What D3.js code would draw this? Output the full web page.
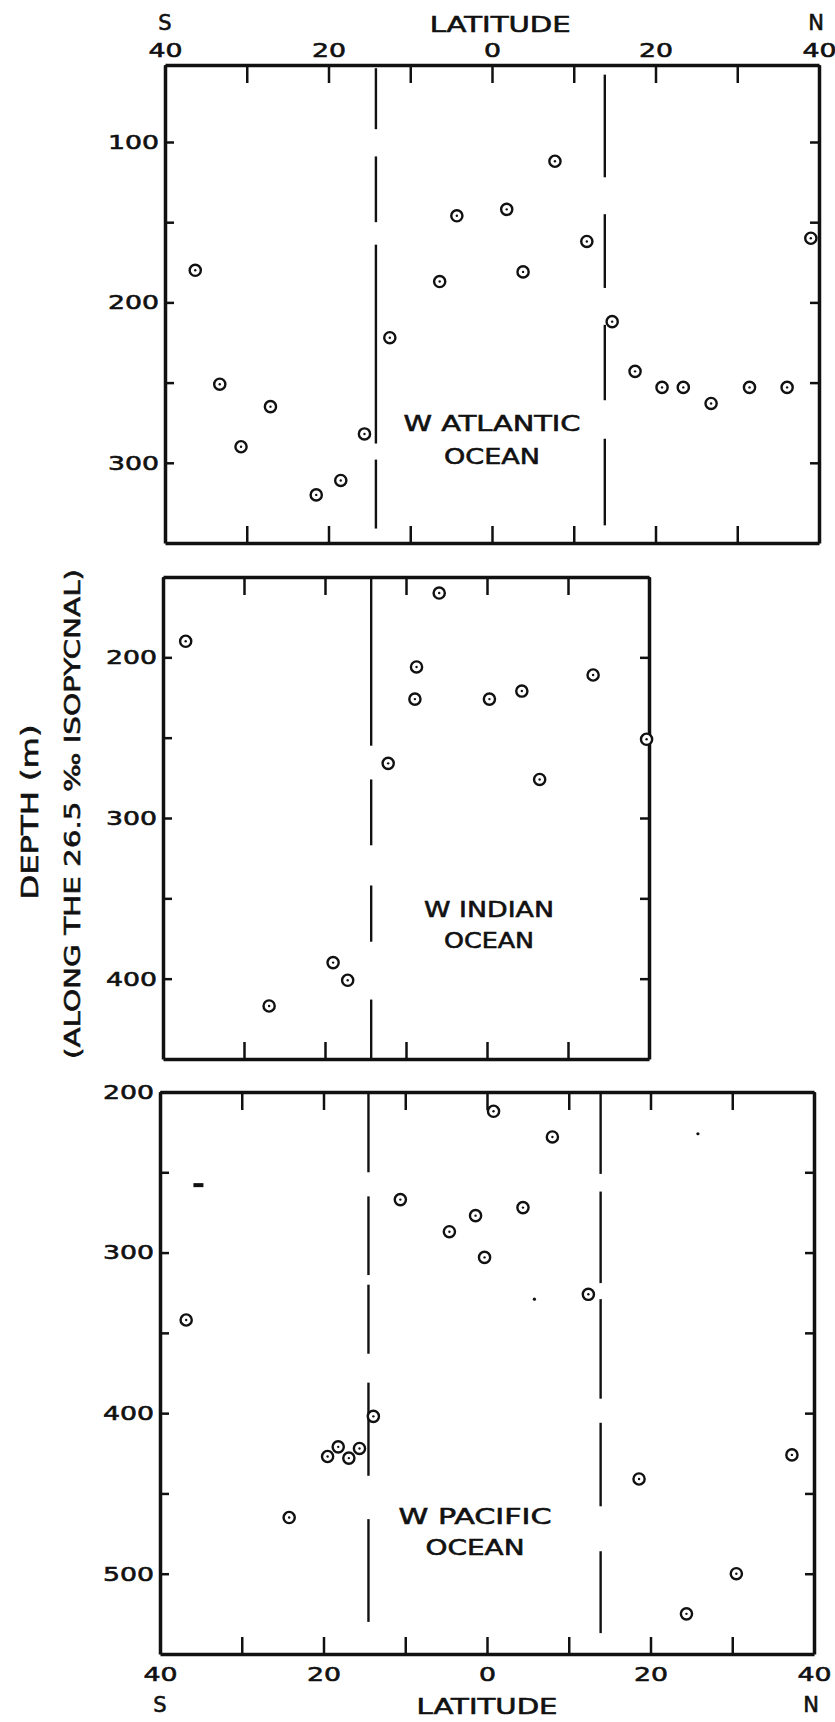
<!DOCTYPE html>
<html lang="en">
<head>
<meta charset="utf-8">
<title>Depth of the 26.5 isopycnal by latitude</title>
<script src="https://d3js.org/d3.v7.min.js"></script>
<style>
  body { margin: 0; background: #fff; }
  svg text { font-family: "DejaVu Sans", sans-serif; fill: #111; stroke: #111; stroke-width: 0.6px; }
  .axis path { stroke: #111; stroke-width: 3.5; }
  .axis line { stroke: #111; stroke-width: 2.5; }
</style>
</head>
<body>
<script>
// --- data (latitude: negative = south) ---
const atlanticLat   = [-36.3, -33.3, -30.7, -27.1, -21.5, -18.5, -15.6, -12.5, -6.4, -4.3, 1.8, 3.8, 7.7, 11.6, 14.7, 17.5, 20.8, 23.4, 26.8, 31.5, 36.1, 39.0];
const atlanticDepth = [180, 251, 290, 265, 320, 311, 282, 222, 187, 146, 142, 181, 112, 162, 212, 243, 253, 253, 263, 253, 253, 160];

const indianLat   = [-37.2, -26.9, -19.0, -17.2, -12.2, -8.9, -8.7, -5.9, 0.3, 4.3, 6.5, 13.1, 19.7];
const indianDepth = [190, 417, 390, 401, 266, 226, 206, 160, 226, 221, 276, 211, 251];

const pacificLat   = [-36.8, -24.2, -19.5, -18.2, -16.9, -15.6, -13.9, -10.6, -4.6, -1.4, -0.3, 0.8, 4.4, 8.0, 12.4, 18.6, 24.4, 30.5, 37.3];
const pacificDepth = [342, 465, 427, 421, 428, 422, 402, 267, 287, 277, 303, 212, 272, 228, 326, 441, 525, 500, 426];

// stray marks printed in the Pacific panel (a dash and two specks)
const pacificMarkLat   = [-35.3, 25.8, 5.8];
const pacificMarkDepth = [258, 226, 329];
const pacificMarkKind  = ["dash", "dot", "dot"];

// broken vertical lines: latitude and the depth pieces that are drawn
const atlanticDivLat  = [-14.2, 13.8];
const atlanticDivSegs = [[[54, 92], [109, 150], [164, 288], [298, 341]],
                         [[58, 122], [145, 191], [214, 261], [285, 339]]];
const indianDivLat  = [-14.3];
const indianDivSegs = [[[151, 255], [276, 317], [342, 377], [413, 450]]];
const pacificDivLat  = [-14.5, 13.9];
const pacificDivSegs = [[[201, 250], [265, 314], [320, 363], [381, 439], [466, 530]],
                        [[201, 251], [262, 319], [329, 391], [406, 458], [486, 537]]];

const latTicks = [-40, -30, -20, -10, 0, 10, 20, 30, 40];
const atlanticDepthTicks = [100, 150, 200, 250, 300];
const indianDepthTicks   = [200, 250, 300, 350, 400];
const pacificDepthTicks  = [200, 250, 300, 350, 400, 450, 500];

const W = 835, H = 1722;
const svg = d3.select("body").append("svg").attr("width", W).attr("height", H);

// stretch lettering to look like the wide drafting letters
function widen(sel, perChar) {
  sel.each(function() {
    const t = this.textContent;
    if (t) d3.select(this).attr("textLength", t.length * perChar).attr("lengthAdjust", "spacingAndGlyphs");
  });
}

const panels = [
  { lat: atlanticLat, depth: atlanticDepth, divLat: atlanticDivLat, divSegs: atlanticDivSegs,
    latDom: [-40, 40], depthDom: [52, 350], depthTicks: atlanticDepthTicks,
    box: { l: 165, r: 819, t: 65, b: 543 }, topLabels: true, bottomLabels: false,
    name: ["W ATLANTIC", "OCEAN"], nameX: 492, nameY: [431, 464], nameW: [177, 96] },
  { lat: indianLat, depth: indianDepth, divLat: indianDivLat, divSegs: indianDivSegs,
    latDom: [-40, 20], depthDom: [150, 450], depthTicks: indianDepthTicks,
    box: { l: 163, r: 649, t: 577, b: 1059 }, topLabels: false, bottomLabels: false,
    name: ["W INDIAN", "OCEAN"], nameX: 489, nameY: [917, 948], nameW: [130, 90] },
  { lat: pacificLat, depth: pacificDepth, divLat: pacificDivLat, divSegs: pacificDivSegs,
    latDom: [-40, 40], depthDom: [200, 550], depthTicks: pacificDepthTicks,
    box: { l: 160, r: 814, t: 1092, b: 1654 }, topLabels: false, bottomLabels: true,
    name: ["W PACIFIC", "OCEAN"], nameX: 475, nameY: [1524, 1555], nameW: [153, 99],
    marks: true }
];

const latFmt = d => (d % 20 === 0 ? Math.abs(d) : "");

panels.forEach(p => {
  const x = d3.scaleLinear().domain(p.latDom).range([p.box.l, p.box.r]);
  const y = d3.scaleLinear().domain(p.depthDom).range([p.box.t, p.box.b]);
  const xt = latTicks.filter(d => d >= p.latDom[0] && d <= p.latDom[1]);

  const g = svg.append("g");

  // frame with inward ticks on all four sides
  g.append("g").attr("class", "axis").attr("transform", `translate(0,${p.box.t})`)
    .call(d3.axisTop(x).tickValues(xt).tickSizeInner(-18).tickSizeOuter(0).tickPadding(8)
      .tickFormat(p.topLabels ? latFmt : ""));
  g.append("g").attr("class", "axis").attr("transform", `translate(0,${p.box.b})`)
    .call(d3.axisBottom(x).tickValues(xt).tickSizeInner(-17).tickSizeOuter(0).tickPadding(13)
      .tickFormat(p.bottomLabels ? latFmt : ""));
  g.append("g").attr("class", "axis").attr("transform", `translate(${p.box.l},0)`)
    .call(d3.axisLeft(y).tickValues(p.depthTicks).tickSizeInner(-9).tickSizeOuter(0).tickPadding(6)
      .tickFormat(d => (d % 100 === 0 ? d : "")));
  g.append("g").attr("class", "axis").attr("transform", `translate(${p.box.r},0)`)
    .call(d3.axisRight(y).tickValues(p.depthTicks).tickSizeInner(-9).tickSizeOuter(0).tickFormat(""));

  g.selectAll(".axis text").attr("font-size", 20).style("font-family", "DejaVu Sans, sans-serif").attr("fill", "#111");
  widen(g.selectAll(".axis text"), 17);

  // broken dividing lines
  p.divLat.forEach((lat, i) => {
    g.selectAll(null).data(p.divSegs[i]).join("line")
      .attr("x1", x(lat)).attr("x2", x(lat))
      .attr("y1", d => y(d[0])).attr("y2", d => y(d[1]))
      .attr("stroke", "#111").attr("stroke-width", 2.4);
  });

  // stray printed marks
  if (p.marks) {
    pacificMarkLat.forEach((lat, i) => {
      if (pacificMarkKind[i] === "dash") {
        g.append("rect").attr("x", x(lat) - 5).attr("y", y(pacificMarkDepth[i]) - 2)
          .attr("width", 10).attr("height", 4).attr("fill", "#111");
      } else {
        g.append("circle").attr("cx", x(lat)).attr("cy", y(pacificMarkDepth[i])).attr("r", 1.6).attr("fill", "#111");
      }
    });
  }

  // station markers: small ring with a centre dot
  const pts = p.lat.map((d, i) => [d, p.depth[i]]);
  const m = g.selectAll(null).data(pts).join("g")
    .attr("transform", d => `translate(${x(d[0])},${y(d[1])})`);
  m.append("circle").attr("r", 5.6).attr("fill", "#fff").attr("stroke", "#111").attr("stroke-width", 2.4);
  m.append("circle").attr("r", 1.2).attr("fill", "#111");

  // ocean name
  p.name.forEach((t, i) => {
    g.append("text").attr("x", p.nameX).attr("y", p.nameY[i]).attr("text-anchor", "middle")
      .attr("font-size", 22).attr("textLength", p.nameW[i]).attr("lengthAdjust", "spacingAndGlyphs")
      .text(t);
  });

  // hemisphere letters and latitude title
  if (p.topLabels || p.bottomLabels) {
    const yy = p.topLabels ? 30 : 1712;
    g.append("text").attr("x", x(-40)).attr("y", yy).attr("text-anchor", "middle").attr("font-size", 21).text("S");
    g.append("text").attr("x", x(40) - 3).attr("y", yy).attr("text-anchor", "middle").attr("font-size", 21).text("N");
    g.append("text").attr("x", p.topLabels ? x(1) : x(0)).attr("y", p.topLabels ? 32 : 1714)
      .attr("text-anchor", "middle").attr("font-size", 21)
      .attr("textLength", 141).attr("lengthAdjust", "spacingAndGlyphs").text("LATITUDE");
  }
});

// shared depth title
svg.append("text").attr("transform", "translate(38,812) rotate(-90)").attr("text-anchor", "middle")
  .attr("font-size", 23).attr("textLength", 175).attr("lengthAdjust", "spacingAndGlyphs").text("DEPTH (m)");
svg.append("text").attr("transform", "translate(80,814) rotate(-90)").attr("text-anchor", "middle")
  .attr("font-size", 22).attr("textLength", 490).attr("lengthAdjust", "spacingAndGlyphs")
  .text("(ALONG THE 26.5 \u2030 ISOPYCNAL)");
</script>
</body>
</html>
